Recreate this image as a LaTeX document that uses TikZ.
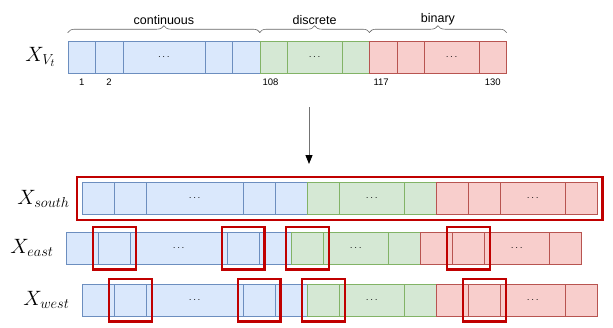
\documentclass[tikz,border=0pt]{standalone}
\usepackage{fontspec}
\setmainfont{Liberation Sans}
\usetikzlibrary{arrows.meta,positioning,fit,decorations.pathreplacing}
\definecolor{bluefill}{HTML}{DAE8FC}
\definecolor{blueline}{HTML}{6C8EBF}
\definecolor{greenfill}{HTML}{D5E8D4}
\definecolor{greenline}{HTML}{82B366}
\definecolor{redfill}{HTML}{F8CECC}
\definecolor{redline}{HTML}{B85450}
\definecolor{hlred}{HTML}{C00000}

% one row of feature cells: prefix, left x, centre y, cell width
\newcommand{\featrow}[4]{%
  \foreach \a/\b/\c/\txt [count=\i] in {0/1/blue/{},1/2/blue/{},2/5/blue/$\cdots$,5/6/blue/{},6/7/blue/{},
      7/8/green/{},8/10/green/$\cdots$,10/11/green/{},
      11/12/red/{},12/13/red/{},13/15/red/$\cdots$,15/16/red/{}}
    \node[cell=\c, minimum width={(\b-\a)*#4*1pt}] (#1\i) at ({#2+(\a+\b)/2*#4}, #3) {\txt};%
}

\begin{document}
\begin{tikzpicture}[x=1pt, y=-1pt, font=\fontsize{10}{12}\selectfont,
  cell/.style={draw=#1line, fill=#1fill, line width=0.6pt, minimum height=32pt, inner sep=0pt},
  lbl/.style={font=\fontsize{21}{24}\selectfont, inner sep=2pt},
  grp/.style={font=\fontsize{12.5}{14}\selectfont},
  num/.style={font=\fontsize{9.5}{11}\selectfont},
  hl/.style={draw=hlred, line width=2.4pt, inner sep=5pt},
  br/.style={decorate, decoration={brace, amplitude=7pt}, draw=black!60, line width=0.6pt},
  ar/.style={-{Triangle[length=9pt, width=7pt, black]}, draw=black!55, line width=0.8pt}]
\useasboundingbox (0,0) rectangle (613,327);

% input vector
\featrow{v}{68}{57}{27.4}
\node[lbl, left=10pt of v1] (xv) {$X_{V_t}$};
\draw[br] ([yshift=8pt]v1.north west) -- ([yshift=8pt]v5.north east) node[grp, midway, above=4pt] (cont) {continuous};
\draw[br] ([yshift=8pt]v6.north west) -- ([yshift=8pt]v8.north east) node[grp, midway, above=4pt] (disc) {discrete};
\draw[br] ([yshift=8pt]v9.north west) -- ([yshift=8pt]v12.north east) node[grp, midway, above=4pt] (bin) {binary};
\node[num, below=2pt of v1] (n1) {1};
\node[num, below=2pt of v2] (n2) {2};
\node[num, below=2pt of v6, xshift=-3pt] (n108) {108};
\node[num, below=2pt of v9, xshift=-2pt] (n117) {117};
\node[num, below=2pt of v12] (n130) {130};

\coordinate (top) at (309,107);
\coordinate (bot) at (309,164);
\draw[ar] (top) -- (bot);

% views
\featrow{s}{82}{198.5}{32.2}
\featrow{e}{66}{248}{32.2}
\featrow{w}{82}{300}{32.2}
\node[lbl, left=10pt of s1] (xs) {$X_{south}$};
\node[lbl, left=10pt of e1] (xe) {$X_{east}$};
\node[lbl, left=10pt of w1] (xw) {$X_{west}$};

\node[hl, fit=(s1)(s12)] (hs) {};
\foreach \k in {2,4,6,10} {
  \node[hl, fit=(e\k)] (he\k) {};
  \node[hl, fit=(w\k)] (hw\k) {};
}
\end{tikzpicture}
\end{document}
